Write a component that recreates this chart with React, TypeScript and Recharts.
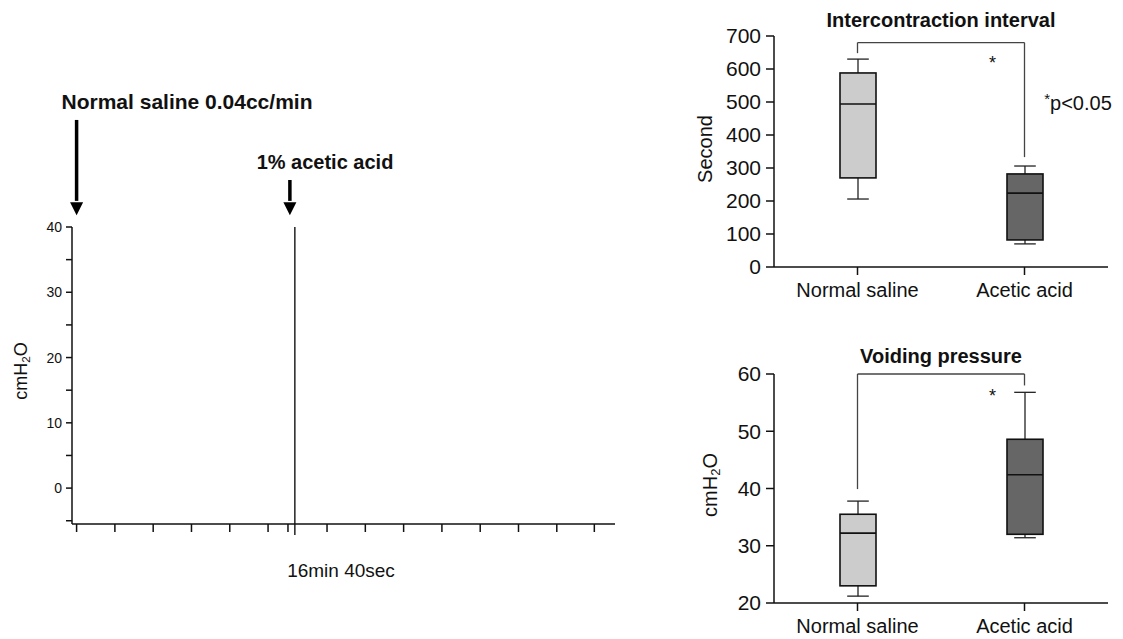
import React from 'react';
import { ComposedChart, Bar, Line, XAxis, YAxis, ReferenceLine, ReferenceDot } from 'recharts';

const FONT = '"Liberation Sans", Arial, sans-serif';

// groups compared in both box plots
const groups = ['Normal saline', 'Acetic acid'];
const boxFills = ['#cccccc', '#666666'];

// intercontraction interval (second)
const icMin = [206, 70];
const icQ1 = [270, 82];
const icMedian = [494, 224];
const icQ3 = [588, 282];
const icMax = [630, 306];
const icTicks = [0, 100, 200, 300, 400, 500, 600, 700];

// voiding pressure (cmH2O)
const vpMin = [21.2, 31.4];
const vpQ1 = [23.0, 32.0];
const vpMedian = [32.2, 42.4];
const vpQ3 = [35.5, 48.6];
const vpMax = [37.8, 56.8];
const vpTicks = [20, 30, 40, 50, 60];

// cystometry trace panel (time in seconds, pressure in cmH2O)
const traceYTicks = [-5, 0, 5, 10, 15, 20, 25, 30, 35, 40];
const traceXTicks = [430, 530, 630, 730, 830, 930, 982, 1084, 1184, 1284, 1384, 1484, 1584, 1684, 1782];
const acidStart = 1000;
const arrowTimes = [430, 987];
const arrowTops = [56.4, 47.2];
const arrowTip = 41.8;

const buildRows = (mins: number[], q1s: number[], meds: number[], q3s: number[], maxs: number[]) =>
  groups.map((name, i) => ({
    name,
    min: mins[i],
    q1: q1s[i],
    median: meds[i],
    q3: q3s[i],
    max: maxs[i],
    fill: boxFills[i],
  }));

const icRows = buildRows(icMin, icQ1, icMedian, icQ3, icMax);
const vpRows = buildRows(vpMin, vpQ1, vpMedian, vpQ3, vpMax);
// the pressure trace itself is not shown in the figure, only the time markers
const traceRows = arrowTimes.map((t) => ({ t, pressure: null }));

// draws whiskers + box + median from the range bar [q1, q3]
const BoxShape = (props: any) => {
  const { x, y, width, height, payload } = props;
  const top = Math.min(y, y + height);
  const h = Math.abs(height);
  const k = h / (payload.q3 - payload.q1 || 1);
  const py = (v: number) => top + (payload.q3 - v) * k;
  const cx = x + width / 2;
  const cap = width * 0.3;
  return (
    <g>
      <line x1={cx} x2={cx} y1={py(payload.max)} y2={py(payload.min)} stroke="#222" strokeWidth={1.3} />
      <line x1={cx - cap} x2={cx + cap} y1={py(payload.max)} y2={py(payload.max)} stroke="#222" strokeWidth={1.3} />
      <line x1={cx - cap} x2={cx + cap} y1={py(payload.min)} y2={py(payload.min)} stroke="#222" strokeWidth={1.3} />
      <rect x={x} y={top} width={width} height={h} fill={payload.fill} stroke="#111" strokeWidth={1.6} />
      <line x1={x} x2={x + width} y1={py(payload.median)} y2={py(payload.median)} stroke="#111" strokeWidth={1.6} />
    </g>
  );
};

const Star = (props: any) => (
  <text x={props.cx - 32} y={props.cy + 9} textAnchor="middle" fontSize={18} fontFamily={FONT} fill="#111">*</text>
);

const ArrowHead = (props: any) => (
  <polygon
    points={`${props.cx - 6.5},${props.cy - 13} ${props.cx + 6.5},${props.cy - 13} ${props.cx},${props.cy}`}
    fill="#000"
  />
);

const Note = ({ x, y, size = 20, bold = false, rotate = false, children }: any) => (
  <div
    style={{
      position: 'absolute',
      left: x,
      top: y,
      transform: `translate(-50%, -50%)${rotate ? ' rotate(-90deg)' : ''}`,
      whiteSpace: 'nowrap',
      fontSize: size,
      fontWeight: bold ? 700 : 400,
      fontFamily: FONT,
      color: '#111',
      lineHeight: 1,
    }}
  >
    {children}
  </div>
);

const Sub = ({ children }: any) => (
  <span style={{ fontSize: '0.65em', verticalAlign: '-0.3em' }}>{children}</span>
);

const axisStyle = { stroke: '#111', strokeWidth: 1.5 };

const BoxPanel = ({ rows, ticks, domain, bracket, starY, height, margin, xHeight }: any) => (
  <ComposedChart width={443} height={height} data={rows} margin={margin}>
    <XAxis
      dataKey="name"
      type="category"
      height={xHeight}
      axisLine={axisStyle}
      tickLine={axisStyle}
      tickSize={8}
      tickMargin={8}
      tick={{ fill: '#111', fontSize: 20, fontFamily: FONT }}
    />
    <YAxis
      type="number"
      domain={domain}
      ticks={ticks}
      interval={0}
      width={80}
      axisLine={axisStyle}
      tickLine={axisStyle}
      tickSize={8}
      tickMargin={5}
      tick={{ fill: '#111', fontSize: 21, fontFamily: FONT }}
    />
    <Bar
      dataKey={(r: any) => [r.q1, r.q3]}
      barSize={36}
      shape={BoxShape}
      isAnimationActive={false}
    />
    <ReferenceLine
      segment={[{ x: groups[0], y: bracket[0] }, { x: groups[1], y: bracket[0] }]}
      stroke="#444"
      strokeWidth={1.3}
      ifOverflow="visible"
    />
    <ReferenceLine
      segment={[{ x: groups[0], y: bracket[0] }, { x: groups[0], y: bracket[1] }]}
      stroke="#444"
      strokeWidth={1.3}
      ifOverflow="visible"
    />
    <ReferenceLine
      segment={[{ x: groups[1], y: bracket[0] }, { x: groups[1], y: bracket[2] }]}
      stroke="#444"
      strokeWidth={1.3}
      ifOverflow="visible"
    />
    <ReferenceDot x={groups[1]} y={starY} r={0} shape={Star} ifOverflow="visible" />
  </ComposedChart>
);

export default function App() {
  return (
    <div style={{ position: 'absolute', left: 0, top: 0, width: 1123, height: 639, background: '#fff', fontFamily: FONT }}>
      {/* left: cystometry trace */}
      <div style={{ position: 'absolute', left: 0, top: 0 }}>
        <ComposedChart width={640} height={639} data={traceRows} margin={{ top: 227, right: 25, bottom: 85, left: 32 }}>
          <XAxis
            type="number"
            dataKey="t"
            domain={[418, 1836]}
            allowDataOverflow
            ticks={traceXTicks}
            interval={0}
            height={30}
            axisLine={axisStyle}
            tickLine={axisStyle}
            tickSize={8}
            tickFormatter={() => ''}
          />
          <YAxis
            type="number"
            domain={[-5.5, 40]}
            allowDataOverflow
            ticks={traceYTicks}
            interval={0}
            width={40}
            axisLine={axisStyle}
            tickLine={axisStyle}
            tickSize={6}
            tickMargin={4}
            tickFormatter={(v: number) => (v % 10 === 0 ? String(v) : '')}
            tick={{ fill: '#111', fontSize: 14, fontFamily: FONT }}
          />
          <Line dataKey="pressure" stroke="#000" dot={false} isAnimationActive={false} />
          <ReferenceLine
            segment={[{ x: acidStart, y: 40 }, { x: acidStart, y: -7.2 }]}
            stroke="#000"
            strokeWidth={1.3}
            ifOverflow="visible"
          />
          {arrowTimes.map((t, i) => (
            <ReferenceLine
              key={`shaft-${i}`}
              segment={[{ x: t, y: arrowTops[i] }, { x: t, y: arrowTip + 2.2 }]}
              stroke="#000"
              strokeWidth={3.5}
              ifOverflow="visible"
            />
          ))}
          {arrowTimes.map((t, i) => (
            <ReferenceDot key={`head-${i}`} x={t} y={arrowTip} r={0} shape={ArrowHead} ifOverflow="visible" />
          ))}
        </ComposedChart>
      </div>
      <Note x={187} y={101} size={21} bold>Normal saline 0.04cc/min</Note>
      <Note x={325} y={162} size={20} bold>1% acetic acid</Note>
      <Note x={341} y={570} size={19}>16min 40sec</Note>
      <Note x={22} y={371} size={18} rotate>cmH<Sub>2</Sub>O</Note>

      {/* top right: intercontraction interval */}
      <div style={{ position: 'absolute', left: 680, top: 0 }}>
        <BoxPanel
          rows={icRows}
          ticks={icTicks}
          domain={[0, 700]}
          bracket={[680, 648, 333]}
          starY={627}
          height={310}
          margin={{ top: 36, right: 15, bottom: 3, left: 14 }}
          xHeight={40}
        />
      </div>
      <Note x={941} y={20} size={20} bold>Intercontraction interval</Note>
      <Note x={705} y={149} size={20} rotate>Second</Note>
      <Note x={1078} y={102} size={20}>
        <span style={{ fontSize: 15, verticalAlign: '0.35em' }}>*</span>p&lt;0.05
      </Note>

      {/* bottom right: voiding pressure */}
      <div style={{ position: 'absolute', left: 680, top: 340 }}>
        <BoxPanel
          rows={vpRows}
          ticks={vpTicks}
          domain={[20, 60]}
          bracket={[60, 39.9, 58]}
          starY={56.7}
          height={299}
          margin={{ top: 34, right: 15, bottom: 0, left: 14 }}
          xHeight={36}
        />
      </div>
      <Note x={941} y={356} size={20} bold>Voiding pressure</Note>
      <Note x={711} y={485} size={20} rotate>cmH<Sub>2</Sub>O</Note>
    </div>
  );
}
